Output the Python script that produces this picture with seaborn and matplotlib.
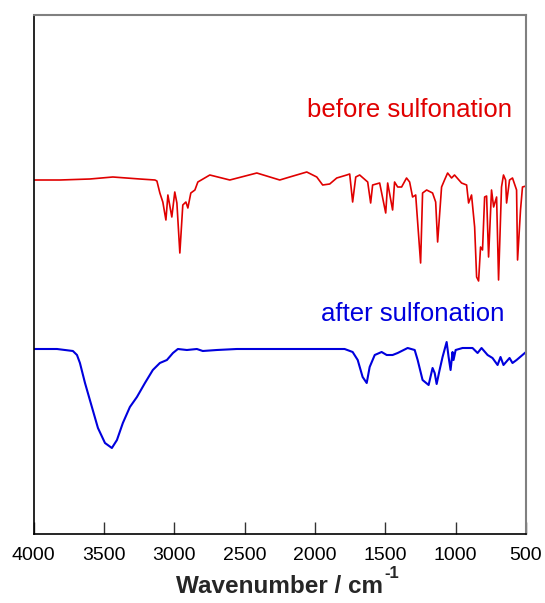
import matplotlib
matplotlib.use("Agg")
import matplotlib.pyplot as plt
import seaborn as sns
import pandas as pd

sns.set_theme(style="white")
plt.rcParams['font.family'] = ['Liberation Sans', 'DejaVu Sans']

# before sulfonation (red)
before_wn = [4000, 3812, 3599, 3436, 3244, 3137, 3123, 3102, 3081, 3059, 3045, 3017, 2996, 2981,
             2960, 2939, 2917, 2903, 2882, 2853, 2832, 2747, 2605, 2413, 2250, 2179, 2058, 1987,
             1945, 1895, 1845, 1774, 1753, 1732, 1710, 1682, 1625, 1604, 1590, 1540, 1497, 1483,
             1448, 1434, 1412, 1384, 1349, 1327, 1306, 1284, 1249, 1235, 1206, 1164, 1142, 1128,
             1100, 1079, 1057, 1029, 1008, 958, 922, 908, 887, 865, 851, 837, 823, 809, 794, 780,
             766, 745, 730, 709, 695, 674, 660, 645, 638, 617, 596, 567, 560, 539, 525, 500]
before_t = [354, 354, 355, 357, 355, 354, 353, 341, 332, 314, 339, 317, 342, 331,
            281, 329, 332, 326, 341, 344, 352, 359, 354, 361, 354, 357, 362, 357,
            349, 350, 356, 359, 360, 332, 357, 359, 352, 331, 349, 351, 321, 351,
            324, 352, 347, 347, 356, 352, 337, 339, 271, 341, 344, 341, 332, 292,
            347, 354, 361, 356, 359, 351, 349, 331, 339, 307, 257, 253, 287, 284, 337, 338,
            277, 344, 327, 337, 254, 347, 359, 354, 331, 354, 356, 344, 274, 324, 347, 348]

# after sulfonation (blue)
after_wn = [4000, 3833, 3720, 3691, 3670, 3634, 3585, 3542, 3492, 3443, 3407, 3365, 3315, 3265,
            3208, 3152, 3102, 3052, 3009, 2974, 2910, 2839, 2797, 2697, 2555, 2179, 1789, 1732,
            1696, 1661, 1632, 1611, 1575, 1526, 1490, 1448, 1412, 1341, 1291, 1270, 1235, 1192,
            1164, 1149, 1135, 1114, 1093, 1064, 1050, 1036, 1022, 1015, 1000, 951, 880, 844,
            816, 773, 738, 702, 681, 660, 617, 596, 567, 500]
after_t = [185, 185, 183, 179, 171, 151, 127, 106, 91, 86, 94, 111, 127, 137,
           151, 164, 171, 174, 181, 185, 184, 185, 183, 184, 185, 185, 185, 182,
           174, 157, 151, 167, 179, 182, 179, 179, 181, 186, 184, 174, 154, 149,
           166, 161, 150, 164, 177, 192, 177, 164, 182, 174, 184, 186, 186, 181,
           186, 179, 176, 169, 177, 169, 176, 171, 174, 182]

xticks = [4000, 3500, 3000, 2500, 2000, 1500, 1000, 500]

df_b = pd.DataFrame({"wn": before_wn, "t": before_t})
df_a = pd.DataFrame({"wn": after_wn, "t": after_t})

fig = plt.figure(figsize=(5.45, 6.03), dpi=100)
ax = fig.add_axes([33.5 / 545, 1 - 534 / 603, (526 - 33.5) / 545, (534 - 15) / 603])

sns.lineplot(data=df_b, x="wn", y="t", sort=False, estimator=None, color="#e00000", lw=1.2, ax=ax)
sns.lineplot(data=df_a, x="wn", y="t", sort=False, estimator=None, color="#0000dd", lw=1.5, ax=ax)

ax.set_xlim(4000, 500)
ax.set_ylim(0, 519)
ax.set_xticks(xticks)
ax.set_xticklabels([str(v) for v in xticks], fontsize=14)
ax.set_yticks([])
ax.set_ylabel("")
ax.set_xlabel("Wavenumber / cm", fontsize=17.5, fontweight="bold", labelpad=8)
ax.tick_params(axis="x", direction="in", length=9, width=1, colors="#333333", labelcolor="black", pad=9, bottom=True)

for side in ["left", "bottom"]:
    ax.spines[side].set_color("black")
    ax.spines[side].set_linewidth(1.2)
for side in ["top", "right"]:
    ax.spines[side].set_color("#808080")
    ax.spines[side].set_linewidth(1.5)
    ax.spines[side].set_visible(True)

ax.text(1327, 424, "before sulfonation", color="#e00000", fontsize=18.5, ha="center", va="center")
ax.text(1305, 220, "after sulfonation", color="#0000dd", fontsize=18.5, ha="center", va="center")

# superscript -1 placed after the x label
fig.canvas.draw()
bb = ax.xaxis.label.get_window_extent(renderer=fig.canvas.get_renderer())
fig.text((bb.x1 + 1) / 545, 1 - 566 / 603, "-1", fontsize=12, fontweight="bold",
         ha="left", va="top")

fig.savefig("out.png", dpi=100)
